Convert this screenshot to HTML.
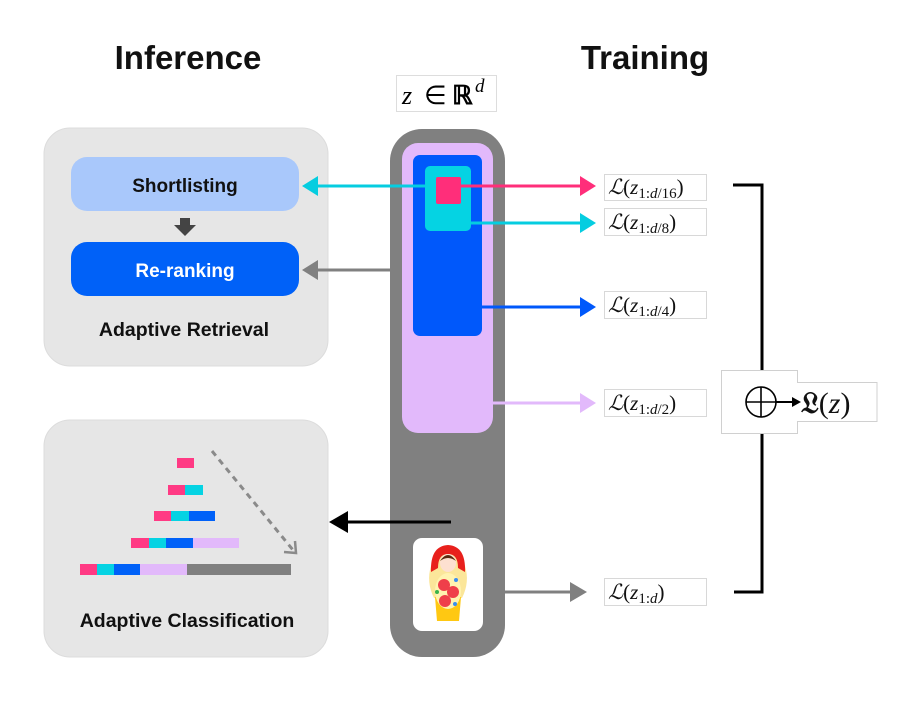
<!DOCTYPE html>
<html><head><meta charset="utf-8"><style>
html,body{margin:0;padding:0;background:#fff;width:915px;height:713px;overflow:hidden}
svg{display:block}
.h{font-family:"Liberation Sans",sans-serif;font-weight:bold}
.m{font-family:"Liberation Serif",serif;font-style:italic}
.r{font-family:"Liberation Serif",serif}
</style></head><body>
<svg width="915" height="713" viewBox="0 0 915 713" xmlns="http://www.w3.org/2000/svg">
<!-- titles -->
<text x="188" y="69" class="h" font-size="33" text-anchor="middle" fill="#111">Inference</text>
<text x="645" y="69" class="h" font-size="33" text-anchor="middle" fill="#111">Training</text>
<!-- z in R^d -->
<rect x="396.5" y="75.5" width="100" height="36" fill="#fff" stroke="#ddd"/>
<text x="402" y="104" class="m" font-size="26">z</text>
<text x="424" y="104" class="r" font-size="26">∈</text>
<text x="452" y="104" class="r" font-size="26" font-weight="bold">ℝ</text>
<text x="475" y="92" class="m" font-size="19">d</text>

<!-- left panels -->
<rect x="44" y="128" width="284" height="238" rx="26" fill="#e6e6e6" stroke="#dcdcdc"/>
<rect x="71" y="157" width="228" height="54" rx="16" fill="#a9c8fb"/>
<text x="185" y="192" class="h" font-size="19" text-anchor="middle" fill="#111">Shortlisting</text>
<path d="M180,218 h10 v7 h6 l-11,11 l-11,-11 h6z" fill="#444"/>
<rect x="71" y="242" width="228" height="54" rx="16" fill="#0061f8"/>
<text x="185" y="277" class="h" font-size="19" text-anchor="middle" fill="#fff">Re-ranking</text>
<text x="184" y="336" class="h" font-size="19.5" text-anchor="middle" fill="#111">Adaptive Retrieval</text>

<rect x="44" y="420" width="284" height="237" rx="26" fill="#e6e6e6" stroke="#dcdcdc"/>
<text x="187" y="627" class="h" font-size="19.5" text-anchor="middle" fill="#111">Adaptive Classification</text>
<!-- bars -->
<rect x="177" y="458" width="17" height="10" fill="#ff3a84"/>
<rect x="168" y="485" width="17" height="10" fill="#ff3a84"/><rect x="185" y="485" width="18" height="10" fill="#05d3e3"/>
<rect x="154" y="511" width="17" height="10" fill="#ff3a84"/><rect x="171" y="511" width="18" height="10" fill="#05d3e3"/><rect x="189" y="511" width="26" height="10" fill="#0061f8"/>
<rect x="131" y="538" width="18" height="10" fill="#ff3a84"/><rect x="149" y="538" width="17" height="10" fill="#05d3e3"/><rect x="166" y="538" width="27" height="10" fill="#0061f8"/><rect x="193" y="538" width="46" height="10" fill="#e2b9fb"/>
<rect x="80" y="564" width="17" height="11" fill="#ff3a84"/><rect x="97" y="564" width="17" height="11" fill="#05d3e3"/><rect x="114" y="564" width="26" height="11" fill="#0061f8"/><rect x="140" y="564" width="47" height="11" fill="#e2b9fb"/><rect x="187" y="564" width="104" height="11" fill="#808080"/>
<line x1="212" y1="451" x2="293" y2="550" stroke="#8a8a8a" stroke-width="3" stroke-dasharray="6,5"/>
<path d="M284,552 L296,553 L295,541" fill="none" stroke="#8a8a8a" stroke-width="2.5"/>

<!-- column -->
<rect x="390" y="129" width="115" height="528" rx="32" fill="#808080"/>
<rect x="402" y="143" width="91" height="290" rx="16" fill="#e2b9fb"/>
<rect x="413" y="155" width="69" height="181" rx="7" fill="#0058fb"/>
<rect x="425" y="166" width="46" height="65" rx="5" fill="#05d3e3"/>
<rect x="436" y="177" width="25" height="27" rx="2" fill="#ff2e7a"/>
<rect x="413" y="538" width="70" height="93" rx="9" fill="#fff"/>
<!-- doll -->
<g>
<path d="M434,598 Q426,582 431,566 Q437,547 448,547 Q459,547 465,566 Q470,582 462,598z" fill="#fbe69a"/>
<path d="M435,597 L461,597 L459,621 L437,621z" fill="#ffc812"/>
<path d="M431,572 Q430,546 448,545 Q466,546 465,572 L458,568 Q458,554 448,554 Q438,554 438,568z" fill="#e8201c"/>
<ellipse cx="448" cy="563" rx="8" ry="9" fill="#fde0d0"/>
<path d="M440,561 Q448,549 456,561 Q448,555 440,561z" fill="#5a2a10"/>
<ellipse cx="448" cy="591" rx="13" ry="18" fill="#fff3b0"/>
<circle cx="444" cy="585" r="6" fill="#ef3f4a"/><circle cx="453" cy="592" r="6" fill="#ef3f4a"/><circle cx="445" cy="601" r="6" fill="#ef3f4a"/>
<circle cx="456" cy="580" r="2" fill="#3a8ef0"/><circle cx="455" cy="604" r="2" fill="#3a8ef0"/><circle cx="437" cy="592" r="2" fill="#3bb34a"/>
</g>

<!-- arrows from column -->
<line x1="461" y1="186" x2="582" y2="186" stroke="#ff2e7a" stroke-width="3"/>
<path d="M580,176 L596,186 L580,196z" fill="#ff2e7a"/>
<line x1="471" y1="223" x2="582" y2="223" stroke="#05cde0" stroke-width="3"/>
<path d="M580,213 L596,223 L580,233z" fill="#05cde0"/>
<line x1="482" y1="307" x2="582" y2="307" stroke="#0058fb" stroke-width="3"/>
<path d="M580,297 L596,307 L580,317z" fill="#0058fb"/>
<line x1="493" y1="403" x2="582" y2="403" stroke="#e2b9fb" stroke-width="3"/>
<path d="M580,393 L596,403 L580,413z" fill="#e2b9fb"/>
<line x1="505" y1="592" x2="572" y2="592" stroke="#808080" stroke-width="3"/>
<path d="M570,582 L587,592 L570,602z" fill="#808080"/>

<!-- left arrows -->
<line x1="425" y1="186" x2="315" y2="186" stroke="#05cde0" stroke-width="3"/>
<path d="M318,176 L302,186 L318,196z" fill="#05cde0"/>
<line x1="390" y1="270" x2="315" y2="270" stroke="#808080" stroke-width="3"/>
<path d="M318,260 L302,270 L318,280z" fill="#808080"/>
<line x1="451" y1="522" x2="345" y2="522" stroke="#000" stroke-width="3"/>
<path d="M348,511 L329,522 L348,533z" fill="#000"/>

<!-- loss labels -->
<g fill="#fff" stroke="#d8d8d8">
<rect x="604.5" y="174.5" width="102" height="26"/>
<rect x="604.5" y="208.5" width="102" height="27"/>
<rect x="604.5" y="291.5" width="102" height="27"/>
<rect x="604.5" y="389.5" width="102" height="27"/>
<rect x="604.5" y="578.5" width="102" height="27"/>
</g>
<g font-size="21" fill="#111">
<text x="608" y="194"><tspan class="m">ℒ</tspan><tspan class="r">(</tspan><tspan class="m">z</tspan><tspan class="r" font-size="15" dy="4">1:</tspan><tspan class="m" font-size="15">d</tspan><tspan class="r" font-size="15">/16</tspan><tspan class="r" dy="-4">)</tspan></text>
<text x="608" y="229"><tspan class="m">ℒ</tspan><tspan class="r">(</tspan><tspan class="m">z</tspan><tspan class="r" font-size="15" dy="4">1:</tspan><tspan class="m" font-size="15">d</tspan><tspan class="r" font-size="15">/8</tspan><tspan class="r" dy="-4">)</tspan></text>
<text x="608" y="312"><tspan class="m">ℒ</tspan><tspan class="r">(</tspan><tspan class="m">z</tspan><tspan class="r" font-size="15" dy="4">1:</tspan><tspan class="m" font-size="15">d</tspan><tspan class="r" font-size="15">/4</tspan><tspan class="r" dy="-4">)</tspan></text>
<text x="608" y="410"><tspan class="m">ℒ</tspan><tspan class="r">(</tspan><tspan class="m">z</tspan><tspan class="r" font-size="15" dy="4">1:</tspan><tspan class="m" font-size="15">d</tspan><tspan class="r" font-size="15">/2</tspan><tspan class="r" dy="-4">)</tspan></text>
<text x="608" y="599"><tspan class="m">ℒ</tspan><tspan class="r">(</tspan><tspan class="m">z</tspan><tspan class="r" font-size="15" dy="4">1:</tspan><tspan class="m" font-size="15">d</tspan><tspan class="r" dy="-4">)</tspan></text>
</g>

<!-- bracket -->
<path d="M733,185 H762 V592 H734" fill="none" stroke="#000" stroke-width="3"/>
<path d="M721.5,370.5 H797.5 V382.5 H877 V421.5 H797.5 V433.5 H721.5z" fill="#fff" stroke="#d0d0d0"/>
<circle cx="761" cy="402" r="15" fill="none" stroke="#000" stroke-width="1.6"/>
<line x1="746" y1="402" x2="776" y2="402" stroke="#000" stroke-width="1.6"/>
<line x1="761" y1="387" x2="761" y2="417" stroke="#000" stroke-width="1.6"/>
<line x1="776" y1="402" x2="794" y2="402" stroke="#000" stroke-width="2"/>
<path d="M792,397 L801,402 L792,407z" fill="#000"/>
<text x="801" y="413" font-size="30" fill="#111"><tspan class="r" font-weight="bold">𝔏</tspan><tspan class="r">(</tspan><tspan class="m">z</tspan><tspan class="r">)</tspan></text>
</svg>
</body></html>
